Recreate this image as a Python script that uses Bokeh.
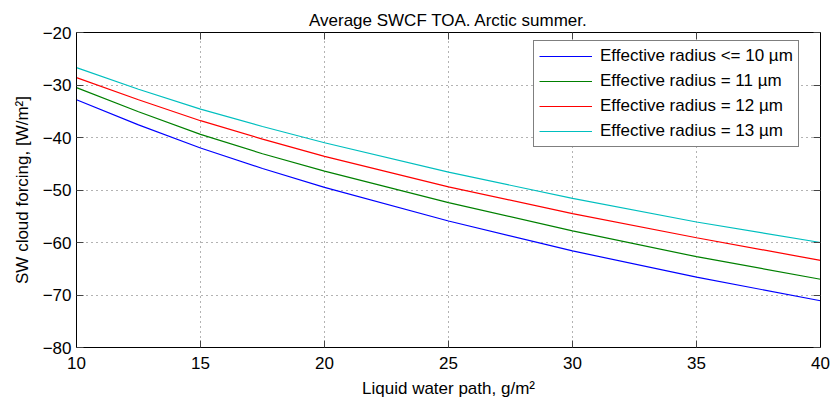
from bokeh.plotting import figure
from bokeh.models import LinearAxis, FixedTicker, Legend, LegendItem, Range1d, Grid
from bokeh.embed import file_html
from bokeh.resources import INLINE

# Liquid water path (g/m^2) and average SW cloud forcing at TOA (W/m^2)
lwp = [10, 12.5, 15, 17.5, 20, 25, 30, 35, 40]
swcf_r10 = [-32.8, -37.6, -42.0, -45.9, -49.5, -55.9, -61.6, -66.6, -71.1]
swcf_r11 = [-30.5, -35.1, -39.4, -43.1, -46.4, -52.4, -57.8, -62.7, -67.0]
swcf_r12 = [-28.6, -32.8, -36.8, -40.3, -43.6, -49.4, -54.5, -59.1, -63.4]
swcf_r13 = [-26.7, -30.8, -34.6, -37.9, -41.0, -46.6, -51.6, -56.1, -60.0]

series_labels = [
    "Effective radius <= 10 \u00b5m",
    "Effective radius = 11 \u00b5m",
    "Effective radius = 12 \u00b5m",
    "Effective radius = 13 \u00b5m",
]
series_colors = ["#0000ff", "#008000", "#ff0000", "#00bfbf"]

x_ticks = [10, 15, 20, 25, 30, 35, 40]
y_ticks = [-80, -70, -60, -50, -40, -30, -20]

FONT = "Liberation Sans"
FS = "17px"

p = figure(
    width=832, height=401,
    x_range=Range1d(10, 40), y_range=Range1d(-80, -20),
    output_backend="svg", toolbar_location=None,
    min_border_left=76, min_border_right=12,
    min_border_top=32, min_border_bottom=54,
    x_axis_type=None, y_axis_type=None,
)
p.outline_line_color = None
p.background_fill_color = "white"
p.border_fill_color = "white"

p.title.text = "Average SWCF TOA. Arctic summer."
p.title.align = "center"
p.title.text_font = FONT
p.title.text_font_size = FS
p.title.text_font_style = "normal"
p.title.text_color = "black"
p.title.standoff = 6


def style_axis(ax):
    ax.axis_line_color = "black"
    ax.axis_line_width = 1
    ax.major_tick_in = 7
    ax.major_tick_out = 0
    ax.minor_tick_line_color = None
    ax.major_tick_line_color = "#444444"
    ax.major_label_text_font = FONT
    ax.major_label_text_font_size = FS
    ax.major_label_text_color = "black"
    ax.axis_label_text_font = FONT
    ax.axis_label_text_font_size = FS
    ax.axis_label_text_font_style = "normal"
    ax.axis_label_text_color = "black"


xb = LinearAxis(ticker=FixedTicker(ticks=x_ticks), axis_label="Liquid water path, g/m\u00b2")
style_axis(xb)
xb.major_label_standoff = 9
xb.axis_label_standoff = 7
p.add_layout(xb, "below")

yl = LinearAxis(ticker=FixedTicker(ticks=y_ticks), axis_label="SW cloud forcing, [W/m\u00b2]")
style_axis(yl)
yl.major_label_standoff = 5
yl.axis_label_standoff = 8
yl.major_label_overrides = {t: "\u2212" + str(abs(t)) for t in y_ticks}
p.add_layout(yl, "left")

# box axes on top and right: ticks only
xt = LinearAxis(ticker=FixedTicker(ticks=x_ticks))
style_axis(xt)
xt.major_label_standoff = 0
xt.major_label_overrides = {t: "" for t in x_ticks}
p.add_layout(xt, "above")

yr = LinearAxis(ticker=FixedTicker(ticks=y_ticks))
style_axis(yr)
yr.major_label_standoff = 0
yr.major_label_overrides = {t: "" for t in y_ticks}
p.add_layout(yr, "right")

# dotted grid
for dim, ticks in ((0, x_ticks), (1, y_ticks)):
    g = Grid(dimension=dim, ticker=FixedTicker(ticks=ticks))
    g.grid_line_color = "#666666"
    g.grid_line_width = 1
    g.grid_line_dash = "1 4"
    p.add_layout(g, "center")

renderers = []
for ys, c in zip([swcf_r10, swcf_r11, swcf_r12, swcf_r13], series_colors):
    r = p.line(lwp, ys, line_color=c, line_width=1.2)
    renderers.append(r)

legend = Legend(
    items=[LegendItem(label=lab, renderers=[r]) for lab, r in zip(series_labels, renderers)],
    location=(457, 200),
    orientation="vertical",
)
legend.border_line_color = "black"
legend.border_line_width = 1.5
legend.background_fill_color = "white"
legend.background_fill_alpha = 1
legend.label_text_font = FONT
legend.label_text_font_size = FS
legend.label_text_color = "black"
legend.glyph_width = 53
legend.glyph_height = 20
legend.label_height = 20
legend.label_standoff = 8
legend.spacing = 5
legend.padding = 5
legend.margin = 0
p.add_layout(legend, "center")

open("out.html", "w").write(file_html(p, INLINE))
